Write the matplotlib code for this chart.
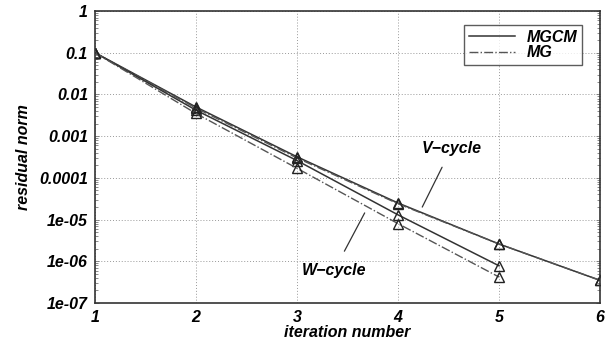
import numpy as np
import matplotlib
matplotlib.use("Agg")
from matplotlib import pyplot as plt
from matplotlib.ticker import LogLocator, FixedLocator, NullFormatter

# data
iters_v = [1, 2, 3, 4, 5, 6]
v_mgcm = [0.1, 5.0e-3, 3.2e-4, 2.5e-5, 2.6e-6, 3.5e-7]
v_mg = [0.1, 4.7e-3, 3.0e-4, 2.4e-5, 2.6e-6, 3.5e-7]

iters_w = [1, 2, 3, 4, 5]
w_mgcm = [0.1, 4.2e-3, 2.6e-4, 1.3e-5, 7.8e-7]
w_mg = [0.1, 3.5e-3, 1.7e-4, 8.0e-6, 4.2e-7]

ytick_vals = [1, 0.1, 0.01, 0.001, 0.0001, 1e-05, 1e-06, 1e-07]
ytick_labels = ["1", "0.1", "0.01", "0.001", "0.0001", "1e-05", "1e-06", "1e-07"]

plt.rcParams['font.family'] = ['Liberation Sans', 'DejaVu Sans']
fnt = dict(fontweight='bold', fontstyle='italic')
fs = 11.5

fig = plt.figure(figsize=(6.11, 3.45), dpi=100)
ax = fig.add_axes([0.1555, 0.1217, 0.8265, 0.8463])

col = '#333333'
mk = dict(marker='^', markersize=6.5, markerfacecolor='none', markeredgecolor='#222222',
          markeredgewidth=1.0)

ax.plot(iters_v, v_mgcm, '-', color=col, lw=1.1, label='MGCM', **mk)
ax.plot(iters_v, v_mg, '-.', color='#555555', lw=1.0, label='MG', **mk)
ax.plot(iters_w, w_mgcm, '-', color=col, lw=1.1, **mk)
ax.plot(iters_w, w_mg, '-.', color='#555555', lw=1.0, **mk)

ax.set_yscale('log')
ax.set_xlim(1, 6)
ax.set_ylim(1e-7, 1)
ax.yaxis.set_major_locator(FixedLocator(ytick_vals))
ax.set_yticklabels(ytick_labels, **fnt, fontsize=fs)
ax.yaxis.set_minor_locator(LogLocator(base=10, subs=np.arange(2, 10)))
ax.yaxis.set_minor_formatter(NullFormatter())
ax.set_xticks(iters_v)
ax.set_xticklabels([str(i) for i in iters_v], **fnt, fontsize=fs)

ax.tick_params(axis='y', which='both', direction='in', right=True, length=3, width=0.6, colors='#777777',
               labelcolor='black', pad=5)
ax.tick_params(axis='y', which='minor', length=2)
ax.tick_params(axis='x', which='both', length=0, pad=5)

ax.grid(True, which='major', linestyle=(0, (1, 2)), color='#999999', lw=0.7)
for s in ax.spines.values():
    s.set_linewidth(1.2)
    s.set_color('#333333')

ax.set_xlabel('iteration number', **fnt, fontsize=fs, labelpad=0)
ax.set_ylabel('residual norm', **fnt, fontsize=fs, labelpad=6)

# cycle annotations
ax.annotate('V\u2212cycle', xy=(4.24, 10**-4.70), xytext=(4.53, 10**-3.29),
            ha='center', va='center', fontsize=fs, **fnt,
            arrowprops=dict(arrowstyle='-', color='#333333', lw=0.9, shrinkA=7, shrinkB=0))
ax.annotate('W\u2212cycle', xy=(3.67, 10**-4.84), xytext=(3.37, 10**-6.21),
            ha='center', va='center', fontsize=fs, **fnt,
            arrowprops=dict(arrowstyle='-', color='#333333', lw=0.9, shrinkA=7, shrinkB=0))

leg = ax.legend(loc='upper right', bbox_to_anchor=(0.98, 0.98), frameon=True, fancybox=False,
                handlelength=2.9, handletextpad=0.7, borderpad=0.3, labelspacing=0.05,
                prop=dict(family=['Liberation Sans'], weight='bold', style='italic', size=fs))
for h in leg.legend_handles:
    h.set_marker('')
leg.get_frame().set_edgecolor('#333333')
leg.get_frame().set_linewidth(1.0)

fig.savefig('out.png', dpi=100)
